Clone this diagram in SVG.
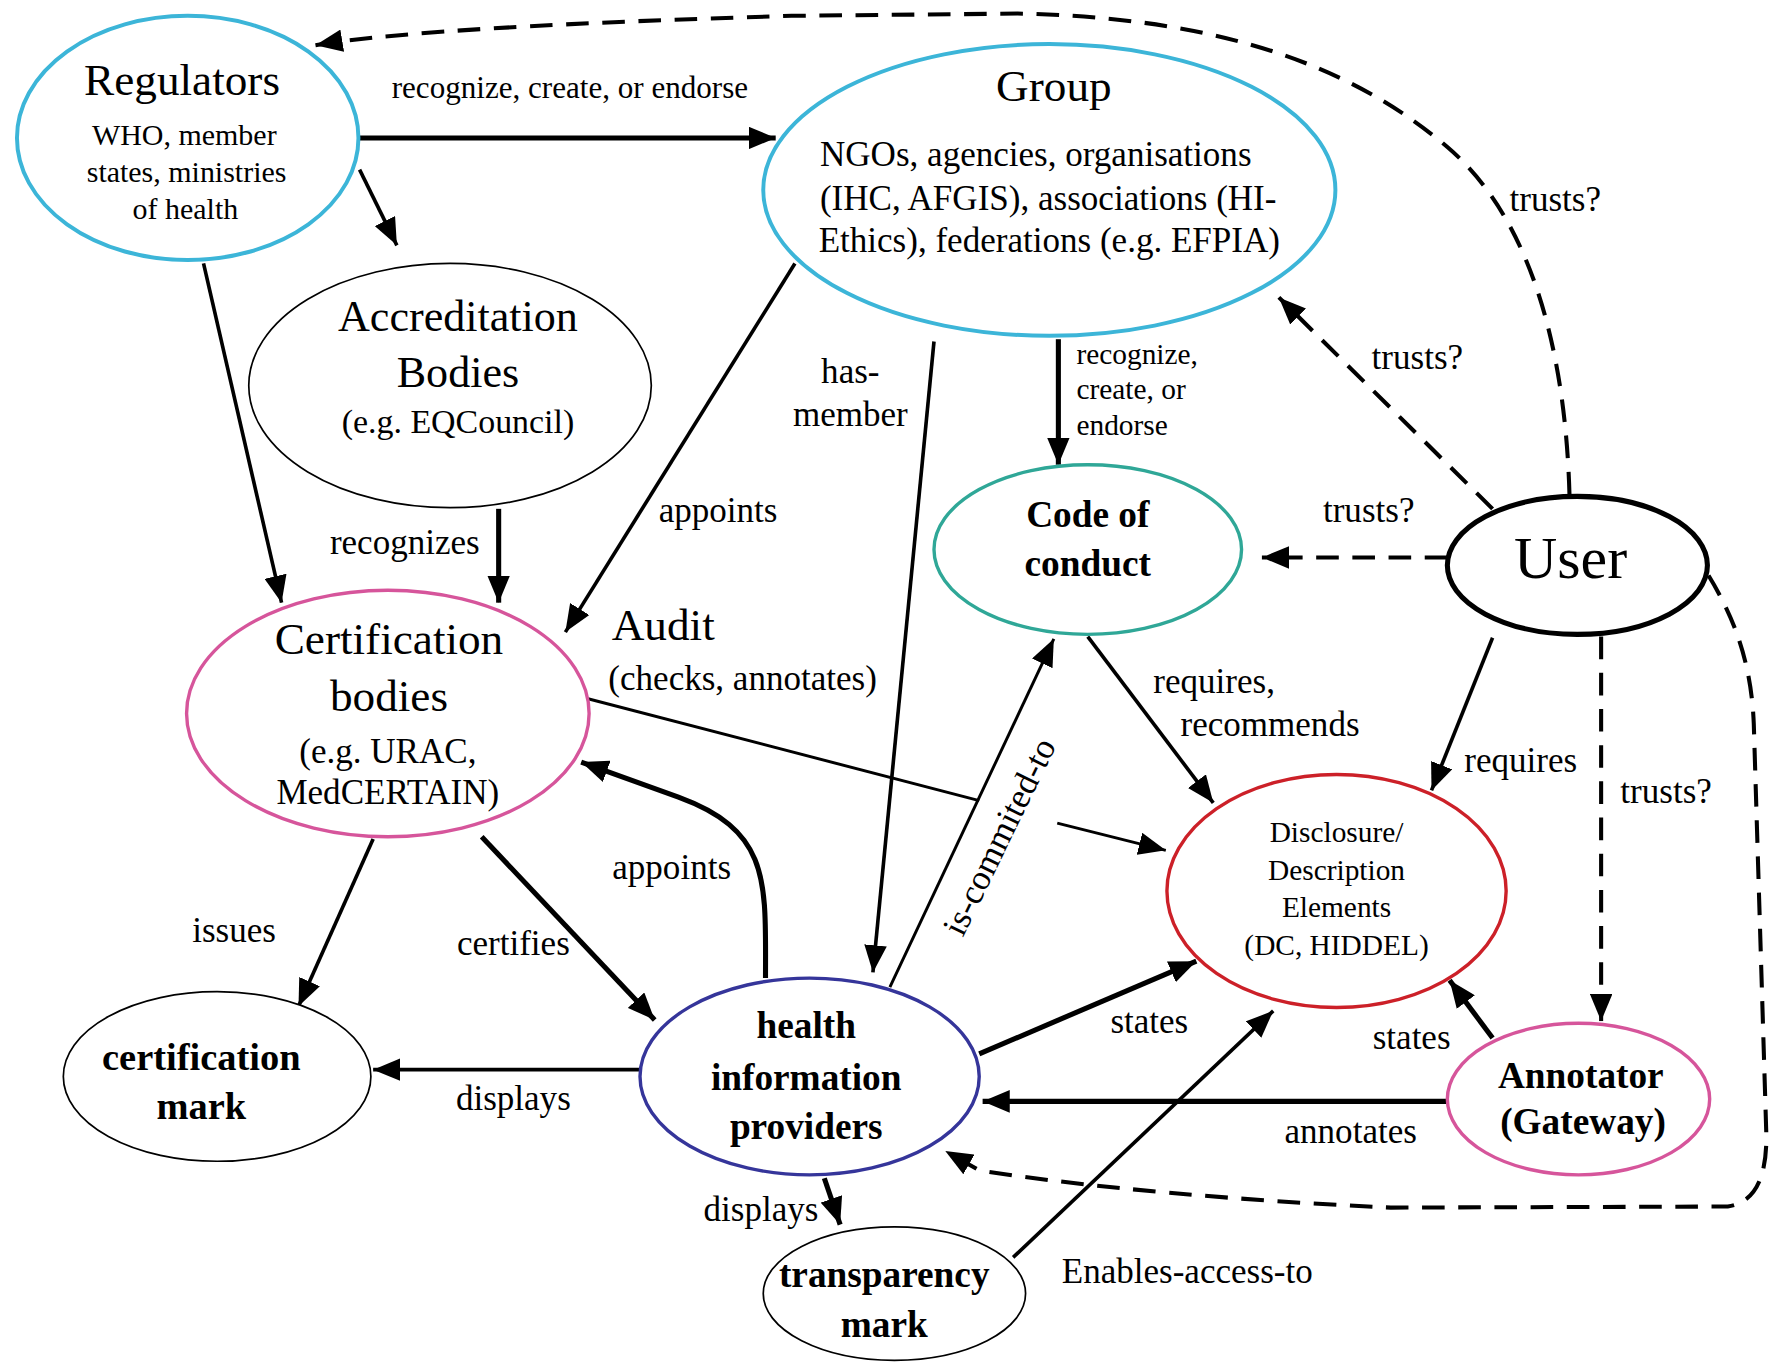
<svg xmlns="http://www.w3.org/2000/svg" width="1773" height="1362" viewBox="0 0 1773 1362">
<defs>
<style>
text{font-family:"Liberation Serif","Times New Roman",serif;fill:#000;}
.m{text-anchor:middle;}
.b{font-weight:bold;}
.lab{font-size:31px;}
.e{fill:#fff;}
.cy{stroke:#3cb5d8;stroke-width:3.5;}
.pk{stroke:#d6559b;stroke-width:3;}
.tl{stroke:#2fa797;stroke-width:3;}
.rd{stroke:#cc2028;stroke-width:3;}
.bl{stroke:#35359a;stroke-width:3;}
.th{stroke:#000;stroke-width:1.5;}
.us{stroke:#000;stroke-width:4.5;}
.c{fill:none;stroke:#000;}
.w4{stroke-width:4.5;}
.w3{stroke-width:3.2;}
.w2{stroke-width:2.6;}
.d{stroke-width:3.6;stroke-dasharray:20 12;}
.a{marker-end:url(#ah);}
</style>
<marker id="ah" viewBox="0 0 24 20" refX="24" refY="10" markerWidth="24" markerHeight="20" markerUnits="userSpaceOnUse" orient="auto">
<path d="M0,0 L24,10 L0,20 z" fill="#000"/>
</marker>
</defs>
<rect width="1773" height="1362" fill="#fff"/>
<g transform="scale(1.13074)">
<g id="connectors">
<path class="c w4 a" d="M317,122 L686,122"/>
<path class="c w3 a" d="M318,150 L351,217"/>
<path class="c w3 a" d="M180,233 L249,533"/>
<path class="c w4 a" d="M441,450 L441,533"/>
<path class="c w3 a" d="M703,233 L500,559"/>
<path class="c w3 a" d="M826,302 L772,860"/>
<path class="c w4 a" d="M936,300 L936,411"/>
<path class="c d a" d="M1320,450 L1131,263"/>
<path class="c d a" d="M1280,493 L1116,493"/>
<path class="c d a" d="M1388,437 C1385,330 1362,200 1280,130 C1180,45 1050,15 900,12 L700,14 C500,20 350,28 279,40"/>
<path class="c d a" d="M1416,563 L1416,903"/>
<path class="c w3 a" d="M1320,564 L1266,699"/>
<path class="c d a" d="M1511,509 C1536,550 1549,590 1551,640 L1562,1000 Q1564,1062 1528,1067 L1230,1068 C1100,1062 960,1050 866,1035 L836,1018"/>
<path class="c w3 a" d="M962,563 L1073,710"/>
<path class="c w2" d="M520,618 L866,708"/>
<path class="c w2 a" d="M935,728 L1031,752"/>
<path class="c w2 a" d="M787,873 L932,565"/>
<path class="c w4 a" d="M677,865 C677,780 682,735 600,705 L514,674"/>
<path class="c w4 a" d="M426,740 L579,902"/>
<path class="c w3 a" d="M330,742 L264,890"/>
<path class="c w3 a" d="M566,946 L330,946"/>
<path class="c w4 a" d="M729,1042 L743,1083"/>
<path class="c w3 a" d="M896,1112 L1126,894"/>
<path class="c w4 a" d="M866,932 L1058,850"/>
<path class="c w4 a" d="M1320,918 L1282,867"/>
<path class="c w4 a" d="M1280,974 L869,974"/>
<text class="m" x="504" y="87" font-size="27.5">recognize, create, or endorse</text>
<text class="m lab" x="358" y="490">recognizes</text>
<text class="m lab" x="635" y="462">appoints</text>
<text class="m lab" x="752" y="339">has-</text>
<text class="m lab" x="752" y="377">member</text>
<text x="952" y="322" font-size="26">recognize,</text>
<text x="952" y="353" font-size="26">create, or</text>
<text x="952" y="385" font-size="26">endorse</text>
<text class="lab" x="1335" y="187">trusts?</text>
<text class="lab" x="1213" y="326">trusts?</text>
<text class="lab" x="1170" y="462">trusts?</text>
<text x="541" y="566" font-size="40">Audit</text>
<text x="538" y="610" font-size="31">(checks, annotates)</text>
<text class="lab" x="1020" y="613">requires,</text>
<text class="lab" x="1044" y="651">recommends</text>
<text class="lab" x="1295" y="683">requires</text>
<text class="lab" x="1433" y="710">trusts?</text>
<text class="m lab" transform="translate(884,740) rotate(-64)" x="0" y="10">is-commited-to</text>
<text class="m lab" x="594" y="777">appoints</text>
<text class="m lab" x="207" y="833">issues</text>
<text class="m lab" x="454" y="845">certifies</text>
<text class="m lab" x="454" y="982">displays</text>
<text class="m lab" x="673" y="1080">displays</text>
<text class="lab" x="939" y="1135">Enables-access-to</text>
<text class="lab" x="982" y="914">states</text>
<text class="lab" x="1214" y="928">states</text>
<text class="lab" x="1136" y="1011">annotates</text>
</g>
<g id="regulators">
<ellipse class="e cy" cx="166" cy="122" rx="151" ry="108"/>
<text class="m" x="161" y="84" font-size="40">Regulators</text>
<text class="m" x="163" y="128" font-size="26.5">WHO, member</text>
<text class="m" x="165" y="161" font-size="26.5">states, ministries</text>
<text class="m" x="164" y="194" font-size="26.5">of health</text>
</g>
<g id="group">
<ellipse class="e cy" cx="928" cy="168" rx="253" ry="129"/>
<text class="m" x="932" y="89" font-size="40">Group</text>
<text class="m" x="916" y="147" font-size="31">NGOs, agencies, organisations</text>
<text class="m" x="927" y="186" font-size="31">(IHC, AFGIS), associations (HI-</text>
<text class="m" x="928" y="223" font-size="31">Ethics), federations (e.g. EFPIA)</text>
</g>
<g id="accreditation">
<ellipse class="e th" cx="398" cy="341" rx="178" ry="108"/>
<text class="m" x="405" y="293" font-size="39">Accreditation</text>
<text class="m" x="405" y="342" font-size="39">Bodies</text>
<text class="m" x="405" y="383" font-size="30">(e.g. EQCouncil)</text>
</g>
<g id="certification-bodies">
<ellipse class="e pk" cx="343" cy="631" rx="178" ry="109"/>
<text class="m" x="344" y="578" font-size="40">Certification</text>
<text class="m" x="344" y="629" font-size="40">bodies</text>
<text class="m" x="343" y="675" font-size="31">(e.g. URAC,</text>
<text class="m" x="343" y="711" font-size="31">MedCERTAIN)</text>
</g>
<g id="code-of-conduct">
<ellipse class="e tl" cx="962" cy="486" rx="136" ry="75"/>
<text class="m b" x="962" y="466" font-size="33">Code of</text>
<text class="m b" x="962" y="509" font-size="33">conduct</text>
</g>
<g id="user">
<ellipse class="e us" cx="1395" cy="500" rx="115" ry="61"/>
<text class="m" x="1389" y="511" font-size="53">User</text>
</g>
<g id="disclosure">
<ellipse class="e rd" cx="1182" cy="788" rx="150" ry="103"/>
<text class="m" x="1182" y="745" font-size="26">Disclosure/</text>
<text class="m" x="1182" y="778" font-size="26">Description</text>
<text class="m" x="1182" y="811" font-size="26">Elements</text>
<text class="m" x="1182" y="845" font-size="26">(DC, HIDDEL)</text>
</g>
<g id="health-information-providers">
<ellipse class="e bl" cx="716" cy="952" rx="150" ry="87"/>
<text class="m b" x="713" y="918" font-size="33">health</text>
<text class="m b" x="713" y="964" font-size="33">information</text>
<text class="m b" x="713" y="1007" font-size="33">providers</text>
</g>
<g id="certification-mark">
<ellipse class="e th" cx="192" cy="952" rx="136" ry="75"/>
<text class="m b" x="178" y="946" font-size="34">certification</text>
<text class="m b" x="178" y="990" font-size="34">mark</text>
</g>
<g id="transparency-mark">
<ellipse class="e th" cx="791" cy="1144" rx="116" ry="59"/>
<text class="m b" x="782" y="1138" font-size="33">transparency</text>
<text class="m b" x="782" y="1182" font-size="33">mark</text>
</g>
<g id="annotator">
<ellipse class="e pk" cx="1396" cy="972" rx="116" ry="67"/>
<text class="m b" x="1398" y="962" font-size="33">Annotator</text>
<text class="m b" x="1400" y="1003" font-size="33">(Gateway)</text>
</g>
</g>
</svg>
